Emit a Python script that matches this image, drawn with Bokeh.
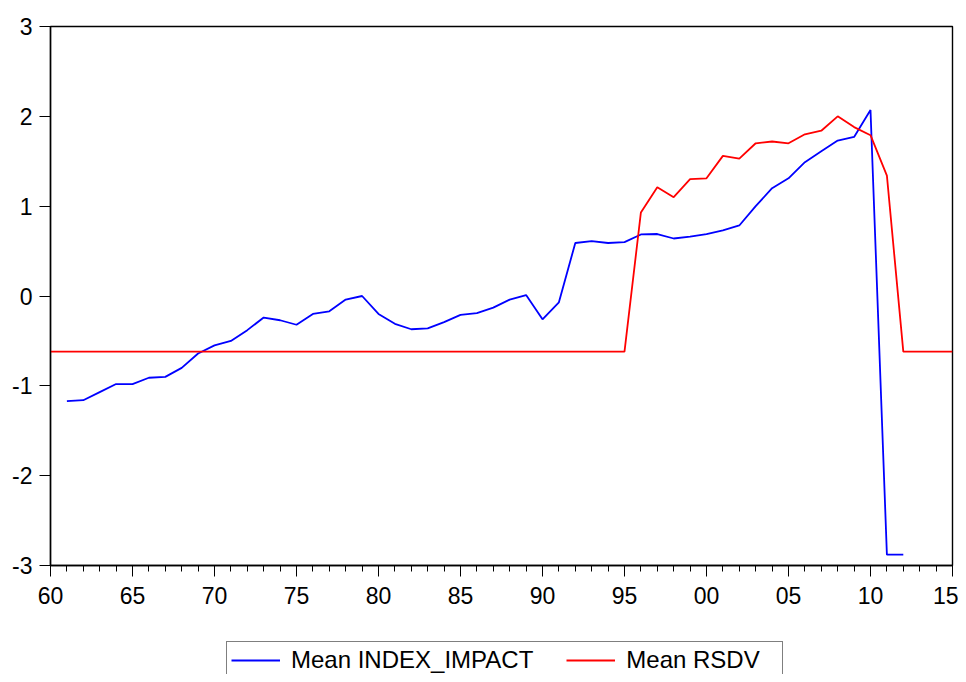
from bokeh.plotting import figure
from bokeh.layouts import column
from bokeh.models import ColumnDataSource, Legend, LegendItem, FixedTicker, Range1d
from bokeh.embed import file_html
from bokeh.resources import INLINE

# Data
years_index = list(range(1961, 2013))
mean_index_impact = [
    -1.17, -1.16, -1.07, -0.98, -0.98, -0.91, -0.90, -0.80, -0.64, -0.55,   # 1961-1970
    -0.50, -0.38, -0.24, -0.27, -0.32, -0.20, -0.17, -0.04, 0.00, -0.20,    # 1971-1980
    -0.31, -0.37, -0.36, -0.29, -0.21, -0.19, -0.13, -0.04, 0.01, -0.26,    # 1981-1990
    -0.07, 0.59, 0.61, 0.59, 0.60, 0.685, 0.69, 0.64, 0.66, 0.69,           # 1991-2000
    0.73, 0.785, 1.00, 1.20, 1.31, 1.49, 1.61, 1.73, 1.77, 2.07,            # 2001-2010
    -2.88, -2.88,                                                           # 2011-2012
]

years_rsdv = list(range(1960, 2016))
mean_rsdv = (
    [-0.62] * 36                                                           # 1960-1995
    + [0.93, 1.21, 1.10, 1.30, 1.31, 1.56, 1.53, 1.70, 1.72, 1.70,          # 1996-2005
       1.80, 1.84, 2.00, 1.88, 1.79, 1.34]                                  # 2006-2011
    + [-0.62] * 4                                                          # 2012-2015
)

series_labels = ["Mean INDEX_IMPACT", "Mean RSDV"]
series_colors = ["#0000FF", "#FF0000"]

x_major_ticks = list(range(1960, 2016, 5))
x_tick_labels = ["60", "65", "70", "75", "80", "85", "90", "95", "00", "05", "10", "15"]
x_minor_ticks = list(range(1960, 2016))
y_ticks = [-3, -2, -1, 0, 1, 2, 3]
y_tick_labels = ["-3", "-2", "-1", "0", "1", "2", "3"]

FONT = "Liberation Sans"
W = 958
LW = 1.8

# ---------------- main chart ----------------
p = figure(
    width=W, height=622,
    output_backend="svg", toolbar_location=None,
    x_range=Range1d(1960, 2015), y_range=Range1d(-3, 3),
    min_border_left=50, min_border_right=6, min_border_top=26, min_border_bottom=57,
)

src_i = ColumnDataSource(dict(x=years_index, y=mean_index_impact))
src_r = ColumnDataSource(dict(x=years_rsdv, y=mean_rsdv))
sources = [src_i, src_r]
for src, col in zip(sources, series_colors):
    p.line("x", "y", source=src, line_color=col, line_width=LW)

p.xgrid.visible = False
p.ygrid.visible = False
p.outline_line_color = "black"
p.outline_line_width = 1.4
p.background_fill_color = "white"
p.border_fill_color = "white"

xa = p.xaxis[0]
xa.ticker = FixedTicker(ticks=x_major_ticks, minor_ticks=x_minor_ticks)
xa.major_label_overrides = {t: l for t, l in zip(x_major_ticks, x_tick_labels)}
xa.major_tick_in = 0
xa.major_tick_out = 11
xa.minor_tick_in = 0
xa.minor_tick_out = 6
xa.major_label_standoff = 10
xa.major_label_text_font = FONT
xa.major_label_text_font_size = "23px"
xa.major_label_text_color = "black"
xa.axis_line_color = "black"
xa.axis_line_width = 1.4
xa.major_tick_line_color = "black"
xa.minor_tick_line_color = "black"

ya = p.yaxis[0]
ya.ticker = FixedTicker(ticks=y_ticks, minor_ticks=[])
ya.major_label_overrides = {t: l for t, l in zip(y_ticks, y_tick_labels)}
ya.major_tick_in = 0
ya.major_tick_out = 11
ya.minor_tick_out = 0
ya.minor_tick_in = 0
ya.major_label_standoff = 7
ya.major_label_text_font = FONT
ya.major_label_text_font_size = "23px"
ya.major_label_text_color = "black"
ya.axis_line_color = "black"
ya.axis_line_width = 1.4
ya.major_tick_line_color = "black"

# ---------------- legend strip ----------------
# Its ranges lie outside the data, so the series' lines are not seen here;
# they only provide the legend's glyphs.
pl = figure(
    width=W, height=52,
    output_backend="svg", toolbar_location=None,
    x_range=Range1d(0, 1), y_range=Range1d(0, 1),
    x_axis_type=None, y_axis_type=None, min_border=0,
)
pl.xgrid.visible = False
pl.ygrid.visible = False
pl.outline_line_color = None
pl.background_fill_color = "white"
pl.border_fill_color = "white"

items = []
for lab, src, col in zip(series_labels, sources, series_colors):
    r = pl.line("x", "y", source=src, line_color=col, line_width=LW)
    items.append(LegendItem(label=lab, renderers=[r]))

legend = Legend(
    items=items,
    orientation="horizontal",
    location=(176, -5),
    label_text_font=FONT,
    label_text_font_size="24px",
    label_text_color="black",
    glyph_width=49,
    glyph_height=20,
    label_standoff=11,
    label_width=152,
    spacing=33,
    padding=4,
    margin=0,
    border_line_color="black",
    border_line_width=1,
    background_fill_alpha=1,
)
pl.add_layout(legend, "center")

layout = column(p, pl, spacing=0)
open("out.html", "w").write(file_html(layout, INLINE))
